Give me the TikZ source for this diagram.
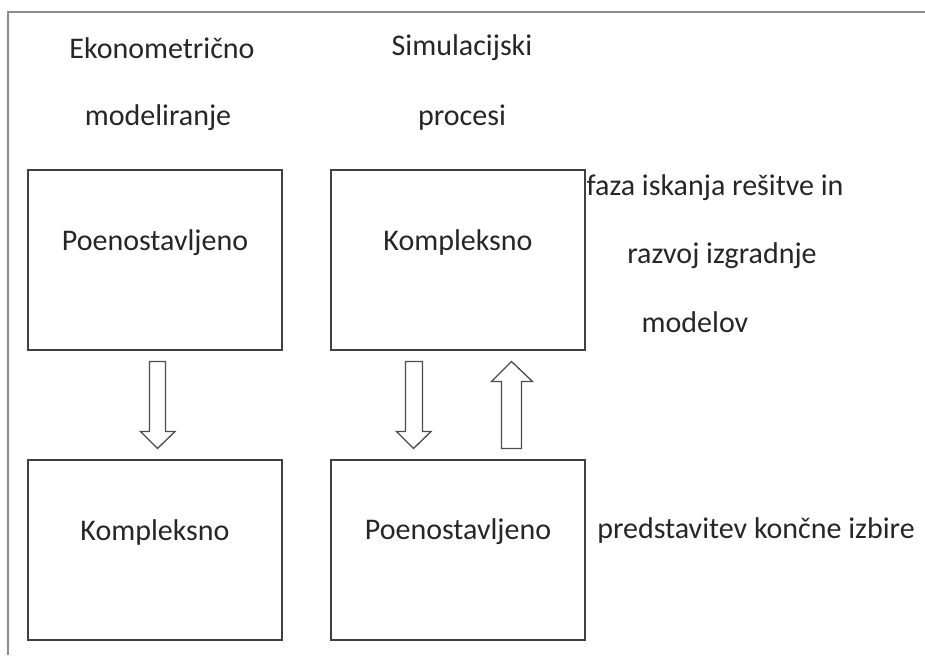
\documentclass[tikz,border=0pt]{standalone}
\usepackage{fontspec}
\setmainfont{Carlito}
\begin{document}
\begin{tikzpicture}[x=1pt,y=-1pt,
  box/.style={draw=black!75,line width=1.8pt,minimum width=254pt,minimum height=180pt,inner sep=0pt},
  lbl/.style={font=\fontsize{30}{33}\selectfont,text=black!85,inner sep=0pt},
  hollow/.style={draw=black!70,line width=1.3pt,fill=white,line join=miter}]
\useasboundingbox (0,0) rectangle (925,655);
% partial page frame
\draw[black!45,line width=1.2pt] (8,655) -- (8,12) -- (925,12);

% column headings
\node[lbl] (h1a) at (162,48) {Ekonometrično};
\node[lbl] (h1b) at (158,118) {modeliranje};
\node[lbl] (h2a) at (462,48) {Simulacijski};
\node[lbl] (h2b) at (462,118) {procesi};

% boxes
\node[box] (b1) at (155,260) {};
\node[box] (b2) at (458,260) {};
\node[box] (b3) at (155,550) {};
\node[box] (b4) at (458,550) {};
\node[lbl] (t1) at (155,243) {Poenostavljeno};
\node[lbl] (t2) at (458,243) {Kompleksno};
\node[lbl] (t3) at (155,532) {Kompleksno};
\node[lbl] (t4) at (458,532) {Poenostavljeno};

% side notes
\node[lbl] (s1) at (715,188) {faza iskanja rešitve in};
\node[lbl] (s2) at (722,256) {razvoj izgradnje};
\node[lbl] (s3) at (695,322) {modelov};
\node[lbl] (s4) at (756,530) {predstavitev končne izbire};

% hollow block arrows
\draw[hollow] (149.5,361.5) -- (165.5,361.5) -- (165.5,431.5) -- (175,431.5)
  -- (157.5,448.5) -- (140.5,431.5) -- (149.5,431.5) -- cycle;
\draw[hollow] (405.5,361.5) -- (422.5,361.5) -- (422.5,431.5) -- (431,431.5)
  -- (413.5,448.5) -- (396.5,431.5) -- (405.5,431.5) -- cycle;
\draw[hollow] (501.5,448.5) -- (521.5,448.5) -- (521.5,381.5) -- (532.5,381.5)
  -- (511.5,361.5) -- (491.5,381.5) -- (501.5,381.5) -- cycle;
\end{tikzpicture}
\end{document}
